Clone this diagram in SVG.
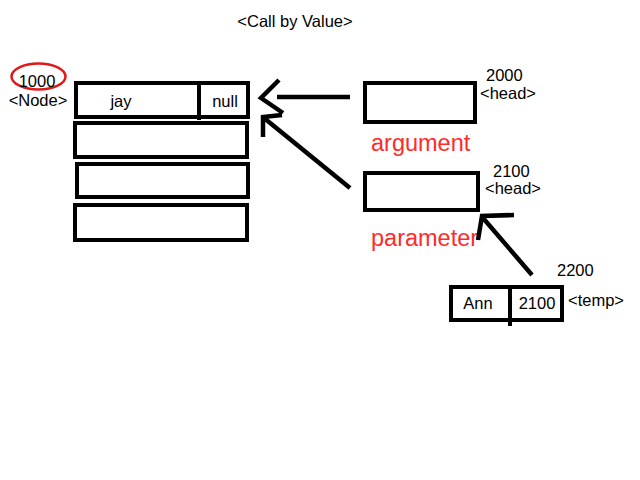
<svg xmlns="http://www.w3.org/2000/svg" width="640" height="480" viewBox="0 0 640 480">
<style>
text{font-family:"Liberation Sans",Arial,sans-serif;fill:#000;font-size:16.5px}
.box{fill:none;stroke:#000;stroke-width:4}
.red{fill:#ff2a2a;font-size:23.5px}
.conn{fill:none;stroke:#000;stroke-width:4.5;stroke-linecap:butt;stroke-linejoin:miter}
</style>
<rect width="640" height="480" fill="#fff"/>
<text x="295" y="27" text-anchor="middle">&lt;Call by Value&gt;</text>
<g id="node1000">
<ellipse cx="38.5" cy="76.5" rx="27" ry="13" fill="none" stroke="#e01818" stroke-width="2.5"/>
<text x="37" y="87" text-anchor="middle">1000</text>
<text x="38" y="106" text-anchor="middle">&lt;Node&gt;</text>
<rect class="box" x="76" y="83" width="172" height="34"/>
<line x1="199" y1="83" x2="199" y2="120" stroke="#000" stroke-width="4"/>
<text x="121" y="107" text-anchor="middle">jay</text>
<text x="225" y="107" text-anchor="middle">null</text>
<rect class="box" x="75" y="123" width="172" height="34"/>
<rect class="box" x="77" y="164" width="171" height="33"/>
<rect class="box" x="75" y="205" width="172" height="35"/>
</g>
<g id="head2000">
<rect class="box" x="365" y="83" width="110" height="39"/>
<text x="486" y="81">2000</text>
<text x="480" y="99" font-size="15.5">&lt;head&gt;</text>
<text class="red" x="371" y="151">argument</text>
</g>
<g id="head2100">
<rect class="box" x="365" y="173" width="113" height="37"/>
<text x="493" y="177">2100</text>
<text x="485" y="194" font-size="15.5">&lt;head&gt;</text>
<text class="red" x="371" y="246">parameter</text>
</g>
<g id="temp2200">
<rect class="box" x="451" y="287" width="111" height="33"/>
<line x1="510" y1="287" x2="510" y2="326" stroke="#000" stroke-width="4"/>
<text x="478" y="309" text-anchor="middle">Ann</text>
<text x="537" y="309" text-anchor="middle">2100</text>
<text x="557" y="276">2200</text>
<text x="568" y="306">&lt;temp&gt;</text>
</g>
<g id="connectors">
<line class="conn" x1="277" y1="97" x2="350" y2="97"/>
<polyline class="conn" points="279,80 261,98 283,113"/>
<line class="conn" x1="350" y1="188" x2="264" y2="118"/>
<polyline class="conn" points="263,137 263,117 282,115"/>
<line class="conn" x1="532" y1="275" x2="483" y2="218"/>
<polyline class="conn" points="514,215 482,216 478,240"/>
</g>
</svg>
